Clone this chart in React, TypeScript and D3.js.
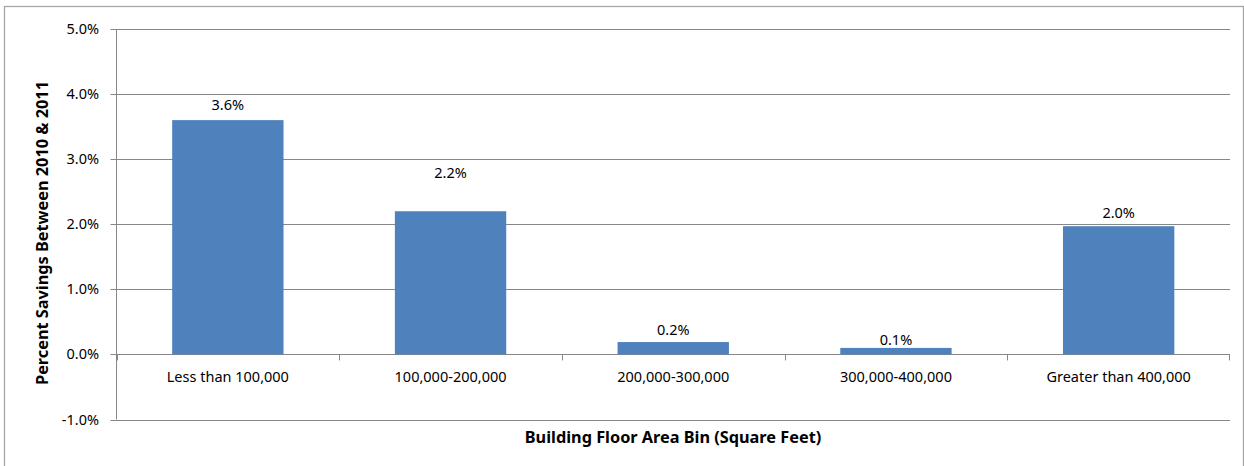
import React from "react";
import * as d3 from "d3";

const categories = [
  "Less than 100,000",
  "100,000-200,000",
  "200,000-300,000",
  "300,000-400,000",
  "Greater than 400,000",
];
const savings = [0.036, 0.022, 0.0019, 0.001, 0.0197];
const yTicks = [-0.01, 0, 0.01, 0.02, 0.03, 0.04, 0.05];
const yTitle = "Percent Savings Between 2010 & 2011";
const xTitle = "Building Floor Area Bin (Square Feet)";

const W = 1244;
const H = 466;
const plot = { left: 116.5, right: 1230, top: 29, bottom: 419.5 };
const FONT = "'Noto Sans', 'Open Sans', sans-serif";
const GRID = "#878787";
const BAR = "#4F81BD";

export default function App() {
  const x = d3.scaleBand<string>().domain(categories).range([plot.left, plot.right]).paddingInner(0.5).paddingOuter(0.25);
  const xb = d3.scaleBand<string>().domain(categories).range([plot.left, plot.right]);
  const y = d3.scaleLinear().domain([-0.01, 0.05]).range([plot.bottom, plot.top]);
  const fmt = (v: number) => d3.format(".1%")(v).replace("\u2212", "-");
  const labelGap = [10, 33, 7, 3, 8];

  return (
    <svg width={W} height={H} style={{ position: "absolute", left: 0, top: 0, background: "#fff" }}>
      <rect x={4.5} y={6.5} width={1239} height={480} fill="#fff" stroke="#a6a6a6" strokeWidth={1.3} />
      {yTicks.map((t) => (
        <g key={t}>
          <line x1={plot.left - 6} x2={plot.right} y1={Math.round(y(t)) + 0.5} y2={Math.round(y(t)) + 0.5} stroke={GRID} strokeWidth={1} />
          <text x={99} y={y(t) + 5} textAnchor="end" fontFamily={FONT} fontSize={14.5} fill="#000">
            {fmt(t)}
          </text>
        </g>
      ))}
      <line x1={plot.left} x2={plot.left} y1={plot.top} y2={plot.bottom} stroke={GRID} strokeWidth={1} />
      {categories.map((c) => (
        <line key={"t" + c} x1={Math.round(xb(c)!) + 0.5} x2={Math.round(xb(c)!) + 0.5} y1={y(0)} y2={y(0) + 6} stroke={GRID} />
      ))}
      <line x1={plot.right - 0.5} x2={plot.right - 0.5} y1={y(0)} y2={y(0) + 6} stroke={GRID} />
      {categories.map((c, i) => (
        <rect key={"b" + c} x={x(c)} y={y(savings[i])} width={x.bandwidth()} height={y(0) - y(savings[i])} fill={BAR} />
      ))}
      {categories.map((c, i) => (
        <text key={"l" + c} x={x(c)! + x.bandwidth() / 2} y={y(savings[i]) - labelGap[i]} textAnchor="middle" fontFamily={FONT} fontSize={14.5} fill="#000">
          {fmt(savings[i])}
        </text>
      ))}
      {categories.map((c) => (
        <text key={"c" + c} x={xb(c)! + xb.bandwidth() / 2} y={382} textAnchor="middle" fontFamily={FONT} fontSize={14.5} fill="#000">
          {c}
        </text>
      ))}
      <text x={673} y={443} textAnchor="middle" fontFamily={FONT} fontSize={16.3} fontWeight="bold" fill="#000">
        {xTitle}
      </text>
      <text transform={`translate(48, 233) rotate(-90)`} textAnchor="middle" fontFamily={FONT} fontSize={16.3} fontWeight="bold" fill="#000">
        {yTitle}
      </text>
    </svg>
  );
}
